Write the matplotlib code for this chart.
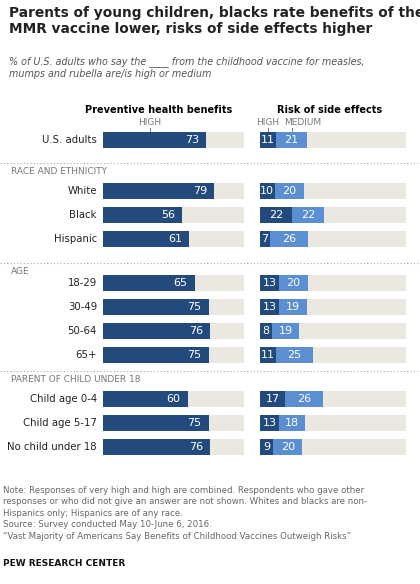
import matplotlib
matplotlib.use("Agg")
import matplotlib.pyplot as plt

labels = ["U.S. adults", "White", "Black", "Hispanic", "18-29", "30-49", "50-64", "65+",
          "Child age 0-4", "Child age 5-17", "No child under 18"]
benefit_high = [73, 79, 56, 61, 65, 75, 76, 75, 60, 75, 76]
risk_high = [11, 10, 22, 7, 13, 13, 8, 11, 17, 13, 9]
risk_medium = [21, 20, 22, 26, 20, 19, 19, 25, 26, 18, 20]
sections = ["RACE AND ETHNICITY", "AGE", "PARENT OF CHILD UNDER 18"]

W, H = 420, 584
ypix = [140, 191, 215, 239, 283, 307, 331, 355, 399, 423, 447]
sep_y = [163, 263, 371]
sec_y = [172, 271, 379]

DARK = "#234a7c"
LIGHT = "#5b8fd2"
BG = "#ebe8e2"

fig = plt.figure(figsize=(W/100, H/100), dpi=100)
fig.patch.set_facecolor("white")
base = fig.add_axes([0, 0, 1, 1])
base.set_xlim(0, W); base.set_ylim(H, 0); base.axis("off")

def make_ax(x0, x1):
    ax = fig.add_axes([x0/W, 1-466/H, (x1-x0)/W, (466-120)/H])
    ax.set_xlim(0, 100); ax.set_ylim(466, 120); ax.axis("off")
    return ax

axL = make_ax(103, 244)
axR = make_ax(260, 406)
bh = 16
axL.barh(ypix, [100]*len(ypix), height=bh, color=BG)
axL.barh(ypix, benefit_high, height=bh, color=DARK)
axR.barh(ypix, [100]*len(ypix), height=bh, color=BG)
axR.barh(ypix, risk_high, height=bh, color=DARK)
axR.barh(ypix, risk_medium, left=risk_high, height=bh, color=LIGHT)
for y, v, h, m in zip(ypix, benefit_high, risk_high, risk_medium):
    axL.text(v-5, y, str(v), color="white", fontsize=8, ha="right", va="center")
    axR.text(h/2, y, str(h), color="white", fontsize=8, ha="center", va="center")
    axR.text(h+m/2, y, str(m), color="white", fontsize=8, ha="center", va="center")
for y, l in zip(ypix, labels):
    base.text(97, y, l, ha="right", va="center", fontsize=7.3, color="#222222")

base.text(150, 127, "HIGH", ha="center", va="bottom", fontsize=6.5, color="#777777")
base.plot([150, 150], [128, 133], color="#777777", lw=0.7)
base.text(268, 127, "HIGH", ha="center", va="bottom", fontsize=6.5, color="#777777")
base.plot([268, 268], [128, 133], color="#777777", lw=0.7)
base.text(303, 127, "MEDIUM", ha="center", va="bottom", fontsize=6.5, color="#777777")
base.plot([292, 292], [128, 133], color="#777777", lw=0.7)
base.text(159, 110, "Preventive health benefits", ha="center", va="center", fontsize=7, fontweight="bold")
base.text(330, 110, "Risk of side effects", ha="center", va="center", fontsize=7, fontweight="bold")

for y in sep_y:
    base.plot([0, W], [y, y], color="#aaaaaa", lw=0.8, ls=(0, (1, 2)))
for y, s in zip(sec_y, sections):
    base.text(11, y, s, ha="left", va="center", fontsize=6.5, color="#777777")

base.text(9, 6, "Parents of young children, blacks rate benefits of the\nMMR vaccine lower, risks of side effects higher",
          ha="left", va="top", fontsize=9.9, fontweight="bold", color="#222222", linespacing=1.2)
base.text(9, 56, "% of U.S. adults who say the ____ from the childhood vaccine for measles,\nmumps and rubella are/is high or medium",
          ha="left", va="top", fontsize=6.9, style="italic", color="#555555", linespacing=1.3)
base.text(3, 486, "Note: Responses of very high and high are combined. Respondents who gave other\n"
          "responses or who did not give an answer are not shown. Whites and blacks are non-\n"
          "Hispanics only; Hispanics are of any race.\n"
          "Source: Survey conducted May 10-June 6, 2016.\n"
          "\u201cVast Majority of Americans Say Benefits of Childhood Vaccines Outweigh Risks\u201d",
          ha="left", va="top", fontsize=6.2, color="#666666", linespacing=1.35)
base.text(3, 564, "PEW RESEARCH CENTER", ha="left", va="center", fontsize=6.5, fontweight="bold", color="#111111")

fig.savefig("out.png", dpi=100)
